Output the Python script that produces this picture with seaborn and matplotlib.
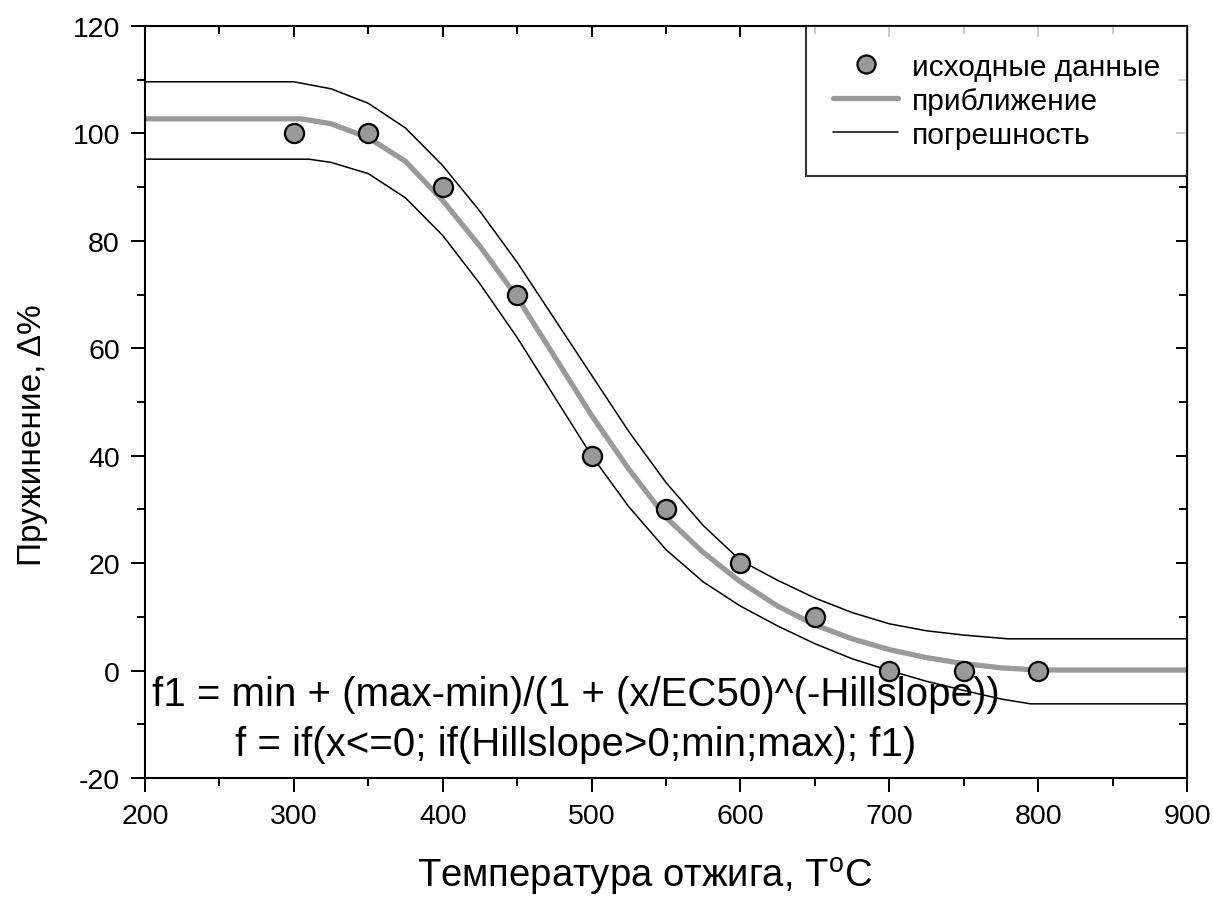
import matplotlib
matplotlib.use('Agg')
import matplotlib.pyplot as plt
import seaborn as sns
from matplotlib.lines import Line2D
from matplotlib.ticker import MultipleLocator

# data
temp = [300, 350, 400, 450, 500, 550, 600, 650, 700, 750, 800]
spring = [100, 100, 90, 70, 40, 30, 20, 10, 0, 0, 0]

fit_x = [200, 305, 325, 350, 375, 400, 425, 450, 475, 500, 525, 550,
         575, 600, 625, 650, 675, 700, 725, 750, 775, 800, 900]
fit_y = [102.7, 102.7, 101.8, 99.2, 94.8, 87.5, 79.0, 69.5, 58.5, 47.5, 37.5, 28.5,
         22.0, 16.5, 12.0, 8.5, 5.9, 3.9, 2.4, 1.3, 0.5, 0.1, 0.1]

up_x = [200, 300, 325, 350, 375, 400, 425, 450, 475, 500, 525, 550,
        575, 600, 625, 650, 675, 700, 725, 750, 780, 900]
up_y = [109.6, 109.6, 108.3, 105.6, 101.0, 94.0, 85.5, 76.0, 65.5, 55.0, 44.5, 35.0,
        27.0, 20.5, 16.8, 13.5, 10.8, 8.7, 7.4, 6.6, 5.9, 5.9]

lo_x = [200, 310, 325, 350, 375, 400, 425, 450, 475, 500, 525, 550,
        575, 600, 625, 650, 675, 700, 725, 750, 775, 795, 900]
lo_y = [95.2, 95.2, 94.6, 92.5, 88.0, 81.0, 72.0, 62.0, 51.0, 40.0, 30.5, 22.5,
        16.5, 12.0, 8.3, 5.0, 2.2, 0.0, -2.0, -3.7, -5.3, -6.2, -6.2]

labels = ['исходные данные', 'приближение', 'погрешность']
formula = 'f1 = min + (max-min)/(1 + (x/EC50)^(-Hillslope))\nf = if(x<=0; if(Hillslope>0;min;max); f1)'

sns.set_style('ticks')
plt.rcParams['font.family'] = ['Liberation Sans', 'DejaVu Sans']
plt.rcParams['mathtext.fontset'] = 'custom'
plt.rcParams['mathtext.rm'] = 'Liberation Sans'
plt.rcParams['axes.unicode_minus'] = False
plt.rcParams['text.color'] = 'black'
plt.rcParams['axes.labelcolor'] = 'black'
plt.rcParams['xtick.color'] = 'black'
plt.rcParams['ytick.color'] = 'black'
plt.rcParams['axes.edgecolor'] = 'black'

fig = plt.figure(figsize=(12.13, 9.04), dpi=100)
ax = fig.add_axes([0.1195, 0.1383, 0.8591, 0.8319])

sns.lineplot(x=up_x, y=up_y, ax=ax, color='black', lw=1.1, sort=False)
sns.lineplot(x=lo_x, y=lo_y, ax=ax, color='black', lw=1.1, sort=False)
sns.lineplot(x=fit_x, y=fit_y, ax=ax, color='#9a9a9a', lw=3.8, sort=False)
sns.scatterplot(x=temp, y=spring, ax=ax, s=190, color='#999999',
                edgecolor='black', linewidth=1.6, zorder=5)

ax.set_xlim(200, 900)
ax.set_ylim(-20, 120)
ax.xaxis.set_major_locator(MultipleLocator(100))
ax.xaxis.set_minor_locator(MultipleLocator(50))
ax.yaxis.set_major_locator(MultipleLocator(20))
ax.yaxis.set_minor_locator(MultipleLocator(10))
ax.tick_params(which='major', length=10, width=1.4, labelsize=20.5, pad=8)
ax.tick_params(which='minor', length=6, width=1.4)
for side in ax.spines.values():
    side.set_linewidth(1.5)

# inward ticks on top and right
axt = ax.secondary_xaxis('top')
axt.xaxis.set_major_locator(MultipleLocator(100))
axt.xaxis.set_minor_locator(MultipleLocator(50))
axt.tick_params(which='both', direction='in', labeltop=False, width=1.4)
axt.tick_params(which='major', length=8)
axt.tick_params(which='minor', length=6)
axr = ax.secondary_yaxis('right')
axr.yaxis.set_major_locator(MultipleLocator(20))
axr.yaxis.set_minor_locator(MultipleLocator(10))
axr.tick_params(which='both', direction='in', labelright=False, width=1.4)
axr.tick_params(which='major', length=8)
axr.tick_params(which='minor', length=6)

ax.set_xlabel('Температура отжига, T$^{\\mathrm{o}}$C', fontsize=27.5)
ax.xaxis.set_label_coords(0.48, -0.102)
ax.set_ylabel('Пружинение, Δ%', fontsize=24)
ax.yaxis.set_label_coords(-0.093, 0.457)

ax.text(489.5, -9, formula, ha='center', va='center', fontsize=29,
        linespacing=1.4, multialignment='center')

handles = [
    Line2D([], [], ls='none', marker='o', markersize=13, markerfacecolor='#999999',
           markeredgecolor='black', markeredgewidth=1.6),
    Line2D([], [], color='#9a9a9a', lw=3.8),
    Line2D([], [], color='black', lw=1.1),
]
leg = ax.legend(handles, labels, loc='upper right', fontsize=21.5, frameon=True,
                fancybox=False, edgecolor='black', borderaxespad=0, borderpad=0.9,
                handlelength=2.2, handletextpad=0.45, labelspacing=0.2)
leg.get_frame().set_linewidth(1.5)

fig.savefig('out.png', dpi=100)
